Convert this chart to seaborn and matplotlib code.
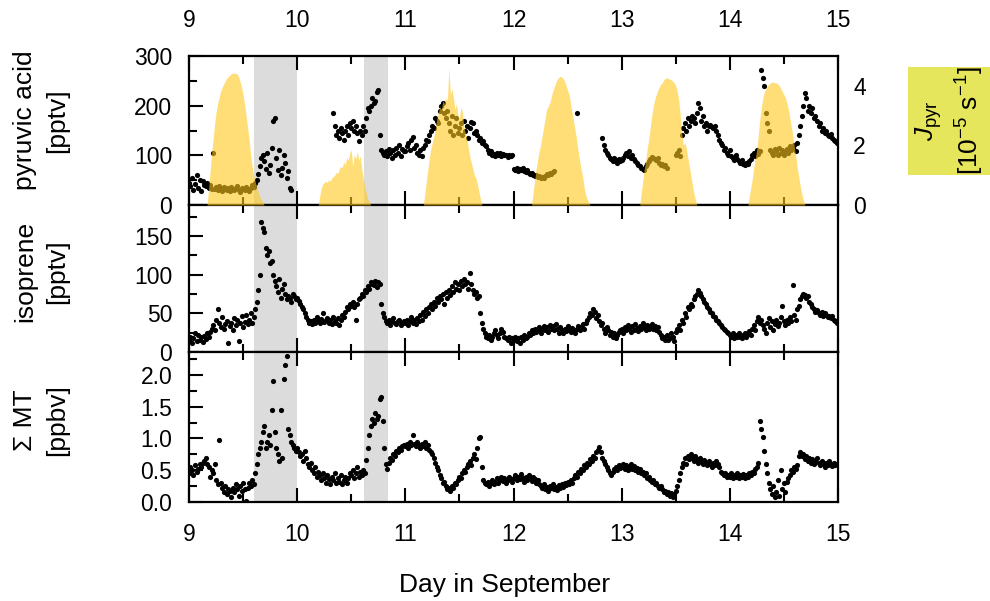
import numpy as np
import pandas as pd
import matplotlib
matplotlib.use('Agg')
import matplotlib.pyplot as plt
import seaborn as sns
from matplotlib.ticker import MultipleLocator, FormatStrFormatter
from matplotlib.patches import Rectangle

N = float('nan')

# ---------------- data (20-min resolution, one list per day) ----------------
days = [9, 10, 11, 12, 13, 14]
steps_per_day = 72

pyr_d9 = [45, 38, 55, 30, 42, 60, 35, 50, 28, 48, 40,
          38, 45, 35, 40, 33, 105,
          32, 36, 30, 38, 34, 29, 37, 33, 31, 35, 28, 36, 32, 30, 34, 38, 31, 27, 35, 33, 30, 36, 32, 29, 34, 40, 37, 45, 50,
          62, 78, 95, 100, 88, 72, 105, 65, 80, 115, 170, 175, 95, 70, 110, 60, 75, 100, 85, 55, 68, 35, 30,
          N, N, N]
pyr_d10 = [N] * 24 + [185, 160, 140, 150, 135, 155, 145, 130, 150, 160, 140, 165, 155, 170, 150, 160, 145, 128,
                      150, 140, 160, 150, 175, 195, 190, 200, 215, 205, 210, 228, 232, 140, 110, 105, 100, 108,
                      98, 112, 104, 95, 110, 100, 115, 105, 120, 98, 112, 108]
pyr_d11 = [108, 118, 125, 110, 130, 137, 115, 120, 105, 100, 110, 98, 115, 120, 130, 128, 140, 150, 160, 155,
           175, 170, 165, 190, 200, 205, 185, 175, 190, 165, 150, 180, 140, 160, 175, 145, 155, 165, 140, 170,
           150, 160, 135, 155, 168, 165, 145, 150, 140, 130, 135, 125, 128, 120, 118, 110, 105, 108, 100, 102,
           98, 105, 100, 104, 99, 103, 100, 101, 97, 100, 98, 100]
pyr_d12 = [72, 70, 75, 68, 72, 70, 74, 68, 66, 70, 65, 62, 64, 60, 58, 60, 56, 58, 55, 57, 54, 58, 62, 60, 64, 62, 66, 68,
           N, N, N, N, N, N, N, N, N, N, N, N, N, N,
           185,
           N, N, N, N, N, N, N, N, N, N, N, N, N, N, N, N,
           135, 120, 110, 105, 100, 95, 92, 88, 95, 90, 85, 92, 88]
pyr_d13 = [90, 95, 100, 105, 98, 108, 95, 100, 92, 88, 85, 80, 78, 75, 72, 70, 78, 82, 88, 92, 96, 95, 92, 90, 94,
           85, 80, 82, 78, 80, 75,
           N, N, N, N, N,
           100, 105, 110, 98, 140, 155, 165, 150, 175, 160, 170, 180, 175, 165, 185, 205, 195, 170, 180, 160,
           165, 150, 160, 162, 158, 155, 160, 150, 140, 130, 125, 120, 110, 115, 105, 100]
pyr_d14 = [110, 98, 95, 90, 100, 92, 88, 85, 90, 82, 80, 85, 82, 88, 92, 100, 105, 98, 110, 102, 108, 272, 255, 240,
           185, 165, 150, 110, 105, 100, 112, 108, 100, 115, 105, 110, 100, 108, 112, 105, 118, 110, 115, 120,
           108, 125, 140, 160, 180, 200, 225, 215, 190, 200, 185, 195, 175, 180, 170, 160, 165, 150, 155, 145,
           150, 140, 138, 142, 135, 130, 128, 125]

iso_d9 = [15, 20, 12, 18, 25, 14, 22, 16, 19, 13, 21, 17, 24, 20, 26, 30,
          35, 28, 42, 55, 38, 32, 45, 30, 36, 40, 12, 33, 38, 29, 44, 35, 41, 14, 37, 46, 32, 39, 48, 36, 42, 50, 38, 45,
          55, 65, 80, 100, 168, 160, 155, 135, 125, 130, 115, 118, 100, 92, 85, 78, 95, 70, 82, 88, 75, 68, 72, 70,
          65, 75, 72, 68]
iso_d10 = [70, 66, 62, 58, 55, 50, 45, 42, 38, 40, 36, 42, 38, 45, 40, 37, 43, 50, 39, 41, 44, 38, 42, 36, 45, 40,
           38, 44, 35, 42, 48, 45, 52, 58, 55, 62, 60, 65, 58, 42, 62, 68, 70, 75, 72, 80, 78, 85, 82, 90, 88, 86,
           92, 84, 90, 88, 62, 50, 45, 40, 38, 42, 35, 40, 44, 38, 36, 40, 42, 35, 38, 40]
iso_d11 = [38, 42, 35, 40, 45, 38, 42, 36, 44, 40, 48, 42, 52, 46, 55, 50, 58, 62, 55, 65, 60, 70, 64, 72, 68, 75,
           62, 78, 70, 80, 74, 85, 78, 90, 82, 88, 80, 92, 85, 95, 88, 90, 82, 102, 88, 80, 75, 78, 70, 72, 50, 38,
           30, 25, 20, 18, 22, 16, 20, 24, 28, 22, 18, 25, 30, 26, 20, 18, 15, 20, 12, 18]
iso_d12 = [16, 20, 14, 18, 12, 20, 15, 22, 18, 20, 25, 22, 28, 24, 30, 26, 28, 32, 25, 30, 34, 28, 32, 26, 35, 30,
           33, 28, 36, 30, 25, 32, 28, 24, 30, 27, 33, 29, 26, 31, 28, 24, 30, 34, 28, 32, 36, 30, 38, 42, 45, 50,
           48, 55, 52, 44, 48, 40, 35, 38, 30, 25, 32, 28, 22, 26, 20, 24, 18, 22, 26, 28]
iso_d13 = [30, 24, 32, 28, 35, 30, 26, 33, 29, 36, 31, 27, 34, 30, 38, 32, 28, 35, 30, 33, 36, 30, 34, 28, 32, 26,
           22, 18, 20, 16, 22, 15, 18, 24, 20, 14, 26, 30, 35, 28, 42, 38, 50, 45, 58, 55, 62, 60, 68, 72, 75, 80,
           76, 72, 68, 65, 62, 58, 55, 52, 50, 47, 45, 42, 40, 37, 35, 32, 30, 28, 26, 24]
iso_d14 = [22, 20, 25, 18, 22, 19, 24, 20, 18, 22, 25, 20, 23, 27, 22, 30, 35, 28, 40, 45, 38, 42, 35, 30, 25, 38,
           44, 32, 40, 28, 36, 42, 34, 38, 45, 60, 40, 35, 42, 38, 45, 40, 87, 48, 42, 55, 60, 68, 72, 75, 74, 70,
           72, 65, 62, 58, 55, 52, 54, 50, 48, 52, 46, 50, 48, 45, 47, 44, 46, 42, 40, 38]

mt_d9 = [0.45, 0.55, 0.5, 0.42, 0.58, 0.48, 0.52, 0.6, 0.55, 0.62, 0.65, 0.7, 0.6, 0.55, 0.4, 0.5, 0.45, 0.6, 0.35,
         0.28, 0.98, 0.3, 0.22, 0.15, 0.25, 0.12, 0.2, 0.18, 0.08, 0.22, 0.15, 0.28, 0.2, 0.1, 0.25, 0.18, 0.3, 0.2,
         0.02, 0.22, 0.3, 0.25, 0.35, 0.28, 0.45, 0.6, 0.75, 0.85, 0.95, 1.1, 1.2, 0.85, 0.95, 1.05, 0.9, 1.45, 1.9,
         1.1, 0.85, 0.75, 0.65, 1.45, 0.7, 1.93, 2.16, 2.3, 1.15, 1.05, 0.95, 0.9, 0.85, 0.8]
mt_d10 = [0.85, 0.78, 0.72, 0.75, 0.65, 0.8, 0.7, 0.6, 0.55, 0.62, 0.5, 0.45, 0.55, 0.4, 0.48, 0.42, 0.35, 0.45,
          0.38, 0.3, 0.42, 0.36, 0.28, 0.4, 0.34, 0.45, 0.3, 0.38, 0.32, 0.42, 0.28, 0.35, 0.4, 0.3, 0.38, 0.45,
          0.42, 0.5, 0.38, 0.45, 0.55, 0.4, 0.48, 0.42, 0.5, 0.45, 0.66, 0.85, 1.05, 1.2, 1.3, 1.25, 1.4, 1.3, 1.35,
          1.62, 1.65, 1.28, 0.85, 0.6, 0.52, 0.62, 0.7, 0.66, 0.75, 0.72, 0.8, 0.78, 0.85, 0.82, 0.88, 0.9]
mt_d11 = [0.88, 0.92, 0.85, 0.95, 0.9, 1.05, 0.92, 0.88, 0.95, 0.9, 0.85, 0.92, 0.88, 0.95, 0.85, 0.9, 0.82, 0.78,
          0.75, 0.7, 0.62, 0.55, 0.5, 0.42, 0.38, 0.3, 0.32, 0.25, 0.2, 0.22, 0.18, 0.25, 0.22, 0.3, 0.28, 0.35,
          0.4, 0.38, 0.45, 0.5, 0.48, 0.55, 0.6, 0.65, 0.58, 0.7, 0.75, 0.68, 0.85, 1.0, 1.03, 0.55, 0.35, 0.3,
          0.28, 0.32, 0.25, 0.3, 0.35, 0.28, 0.32, 0.38, 0.3, 0.35, 0.4, 0.33, 0.38, 0.3, 0.35, 0.4, 0.36, 0.32]
mt_d12 = [0.38, 0.42, 0.35, 0.4, 0.36, 0.44, 0.38, 0.32, 0.4, 0.35, 0.42, 0.38, 0.33, 0.4, 0.36, 0.3, 0.35, 0.28,
          0.25, 0.22, 0.28, 0.2, 0.24, 0.18, 0.25, 0.22, 0.28, 0.2, 0.24, 0.19, 0.26, 0.22, 0.28, 0.24, 0.3, 0.26,
          0.32, 0.28, 0.35, 0.3, 0.38, 0.42, 0.4, 0.48, 0.45, 0.52, 0.5, 0.58, 0.55, 0.62, 0.6, 0.68, 0.65, 0.72,
          0.7, 0.78, 0.82, 0.87, 0.78, 0.7, 0.65, 0.6, 0.55, 0.5, 0.45, 0.42, 0.48, 0.52, 0.55, 0.5, 0.58, 0.54]
mt_d13 = [0.55, 0.6, 0.52, 0.58, 0.5, 0.55, 0.6, 0.52, 0.56, 0.5, 0.54, 0.48, 0.52, 0.45, 0.48, 0.42, 0.45, 0.38,
          0.4, 0.35, 0.32, 0.35, 0.28, 0.3, 0.25, 0.22, 0.25, 0.2, 0.15, 0.18, 0.12, 0.15, 0.1, 0.14, 0.08, 0.12,
          0.18, 0.25, 0.35, 0.45, 0.55, 0.62, 0.7, 0.6, 0.72, 0.68, 0.75, 0.7, 0.65, 0.72, 0.68, 0.62, 0.7, 0.65,
          0.6, 0.66, 0.62, 0.58, 0.65, 0.6, 0.55, 0.62, 0.58, 0.65, 0.6, 0.55, 0.48, 0.45, 0.42, 0.45, 0.4, 0.43]
mt_d14 = [0.4, 0.45, 0.38, 0.42, 0.4, 0.45, 0.38, 0.42, 0.4, 0.44, 0.38, 0.42, 0.4, 0.45, 0.42, 0.48, 0.45, 0.52,
          0.55, 0.62, 1.28, 1.15, 1.02, 0.8, 0.6, 0.45, 0.3, 0.2, 0.12, 0.25, 0.08, 0.15, 0.35, 0.1, 0.5, 0.2, 0.3,
          0.15, 0.32, 0.38, 0.42, 0.5, 0.48, 0.55, 0.52, 0.58, 0.72, 0.78, 0.72, 0.75, 0.68, 0.72, 0.65, 0.7, 0.62,
          0.68, 0.6, 0.65, 0.7, 0.62, 0.58, 0.65, 0.6, 0.55, 0.62, 0.58, 0.65, 0.6, 0.56, 0.62, 0.58, 0.6]

# photolysis frequency J_pyr [1e-5 s-1]
j_d9 = [0] * 12 + [0, 0.5, 1.1, 1.7, 2.2, 2.7, 3.1, 3.4, 3.6, 3.8, 3.95, 4.05, 4.15, 4.25, 4.3, 4.35, 4.4, 4.42,
                   4.43, 4.42, 4.4, 4.3, 4.15, 3.95, 3.7, 3.4, 3.0, 2.6, 2.2, 1.7, 1.3, 1.0, 0.8, 0.6, 0.45, 0.3,
                   0.2, 0.1, 0] + [0] * 21
j_d10 = [0] * 14 + [0, 0.3, 0.55, 0.7, 0.75, 0.8, 0.75, 0.85, 0.8, 0.9, 0.95, 1.0, 1.1, 1.05, 1.2, 1.3, 1.25, 1.45,
                    1.35, 1.6, 1.5, 1.75, 1.85, 1.3, 1.7, 1.55, 1.8, 1.5, 1.65, 1.2, 0.9, 0.6, 0.4, 0.2, 0.1,
                    0] + [0] * 22
j_d11 = [0] * 12 + [0, 0.4, 0.8, 1.2, 1.6, 1.9, 2.1, 2.3, 2.6, 2.9, 3.1, 3.3, 3.2, 3.5, 3.4, 3.6, 3.5, 4.6, 3.7,
                    3.9, 3.6, 3.2, 3.4, 3.0, 2.9, 3.3, 3.1, 2.6, 2.4, 2.2, 1.9, 1.6, 1.4, 1.2, 1.0, 0.9, 0.7,
                    0.45, 0.2, 0] + [0] * 20
j_d12 = [0] * 12 + [0, 0.4, 0.8, 1.2, 1.5, 1.8, 2.0, 2.3, 2.6, 2.9, 3.2, 3.3, 3.4, 3.6, 3.8, 3.95, 4.1, 4.2, 4.28,
                    4.32, 4.3, 4.25, 4.15, 4.0, 3.85, 3.7, 3.4, 3.1, 2.8, 2.5, 2.2, 1.8, 1.5, 1.2, 0.95, 0.6,
                    0.35, 0.2, 0.08, 0] + [0] * 20
j_d13 = [0] * 12 + [0, 0.4, 0.8, 1.2, 1.5, 1.9, 2.2, 2.6, 3.0, 3.3, 3.55, 3.7, 3.85, 3.95, 4.05, 4.1, 4.2, 4.25,
                    4.27, 4.25, 4.22, 4.2, 4.15, 4.1, 4.0, 3.8, 3.5, 3.0, 2.4, 2.0, 2.1, 1.9, 1.6, 1.3, 1.0, 0.7,
                    0.4, 0.2, 0] + [0] * 21
j_d14 = [0] * 12 + [0, 0.3, 0.6, 0.9, 1.3, 1.6, 1.9, 2.4, 2.9, 3.3, 3.6, 3.8, 3.9, 4.0, 4.05, 4.1, 4.12, 4.12,
                    4.1, 4.1, 4.05, 4.0, 3.9, 3.8, 3.7, 3.6, 3.4, 3.2, 2.9, 2.6, 2.3, 1.9, 1.6, 1.2, 0.9, 0.6,
                    0.35, 0.15, 0] + [0] * 21

shaded_periods = [(9.6, 10.0), (10.62, 10.84)]
day_ticks = [9, 10, 11, 12, 13, 14, 15]
j_ticks = [0, 2, 4]


def day_frame(day_lists, name):
    rows = []
    for d, vals in zip(days, day_lists):
        for i, v in enumerate(vals):
            rows.append((d + i / steps_per_day, v))
    return pd.DataFrame(rows, columns=['day', name])


df_pyr = day_frame([pyr_d9, pyr_d10, pyr_d11, pyr_d12, pyr_d13, pyr_d14], 'pyr').dropna()
df_iso = day_frame([iso_d9, iso_d10, iso_d11, iso_d12, iso_d13, iso_d14], 'iso').dropna()
df_mt = day_frame([mt_d9, mt_d10, mt_d11, mt_d12, mt_d13, mt_d14], 'mt').dropna()
df_j = day_frame([j_d9, j_d10, j_d11, j_d12, j_d13, j_d14], 'j')

# ---------------- style ----------------
sns.set_style('ticks')
plt.rcParams['font.family'] = ['Liberation Sans', 'DejaVu Sans']
plt.rcParams['text.color'] = 'black'
plt.rcParams['mathtext.fontset'] = 'custom'
plt.rcParams['mathtext.rm'] = 'Liberation Sans'
plt.rcParams['mathtext.it'] = 'Liberation Sans:italic'
plt.rcParams['mathtext.bf'] = 'Liberation Sans:bold'

TFS = 16.5   # tick labels
LFS = 19     # axis labels
fig = plt.figure(figsize=(9.9, 6.01), dpi=100)
L, W = 0.1909, 0.6556
ax1 = fig.add_axes([L, 0.6589, W, 0.9068 - 0.6589])
ax2 = fig.add_axes([L, 0.4143, W, 0.6589 - 0.4143])
ax3 = fig.add_axes([L, 0.1647, W, 0.4143 - 0.1647])

for ax, df, col in [(ax1, df_pyr, 'pyr'), (ax2, df_iso, 'iso'), (ax3, df_mt, 'mt')]:
    for a, b in shaded_periods:
        ax.axvspan(a, b, color='#dcdcdc', lw=0, zorder=0)
    sns.scatterplot(data=df, x='day', y=col, ax=ax, color='black', s=14, linewidth=0, zorder=2)
    ax.set_xlim(9, 15)
    ax.set_xlabel('')
    ax.set_ylabel('')
    ax.set_xticks(day_ticks)
    ax.xaxis.set_minor_locator(MultipleLocator(0.5))
    for s in ax.spines.values():
        s.set_linewidth(1.6)
        s.set_color('black')
        s.set_visible(True)
    ax.tick_params(which='both', direction='in', top=True, bottom=True, left=True, right=False,
                   width=1.5, color='black', labelsize=TFS, labelcolor='black')
    ax.tick_params(which='major', length=10)
    ax.tick_params(which='minor', length=6)
    ax.tick_params(axis='y', pad=12)

ax1.set_ylim(0, 300)
ax1.yaxis.set_major_locator(MultipleLocator(100))
ax1.yaxis.set_minor_locator(MultipleLocator(50))
ax1.tick_params(axis='x', labeltop=True, labelbottom=False, pad=17)

ax2.set_ylim(0, 190)
ax2.yaxis.set_major_locator(MultipleLocator(50))
ax2.yaxis.set_minor_locator(MultipleLocator(25))
ax2.tick_params(axis='x', labeltop=False, labelbottom=False)

ax3.set_ylim(0, 2.36)
ax3.yaxis.set_major_locator(MultipleLocator(0.5))
ax3.yaxis.set_minor_locator(MultipleLocator(0.25))
ax3.yaxis.set_major_formatter(FormatStrFormatter('%.1f'))
ax3.tick_params(axis='x', labeltop=False, labelbottom=True, pad=15)

# J_pyr on twin axis, drawn over the dots
axj = ax1.twinx()
axj.fill_between(df_j['day'], 0, df_j['j'], color='#FFC81E', alpha=0.6, lw=0)
axj.set_ylim(0, 5)
axj.set_xlim(9, 15)
axj.set_yticks(j_ticks)
axj.tick_params(axis='y', length=0, pad=11, labelsize=TFS, labelcolor='black')
for s in axj.spines.values():
    s.set_visible(False)

# labels
LX = 0.0414
fig.text(LX, 0.800, 'pyruvic acid\n[pptv]', rotation=90, ha='center', va='center',
         fontsize=LFS, linespacing=1.42, color='black')
fig.text(LX, 0.548, 'isoprene\n[pptv]', rotation=90, ha='center', va='center',
         fontsize=LFS, linespacing=1.42, color='black')
fig.text(LX, 0.301, '\u03a3 MT\n[ppbv]', rotation=90, ha='center', va='center',
         fontsize=LFS, linespacing=1.42, color='black')
fig.text(0.510, 1 - 585 / 601, 'Day in September', ha='center', va='center', fontsize=LFS, color='black')

fig.patches.append(Rectangle((908 / 990, 1 - 175 / 601), 82 / 990, 108 / 601,
                             transform=fig.transFigure, facecolor='#E6E65C', edgecolor='none'))
fig.text(950 / 990, 1 - 121 / 601, '$J_{\\mathrm{pyr}}$\n[10$^{-5}$ s$^{-1}$]', rotation=90,
         ha='center', va='center', fontsize=LFS, linespacing=1.4, color='black')

fig.savefig('out.png', dpi=100)
